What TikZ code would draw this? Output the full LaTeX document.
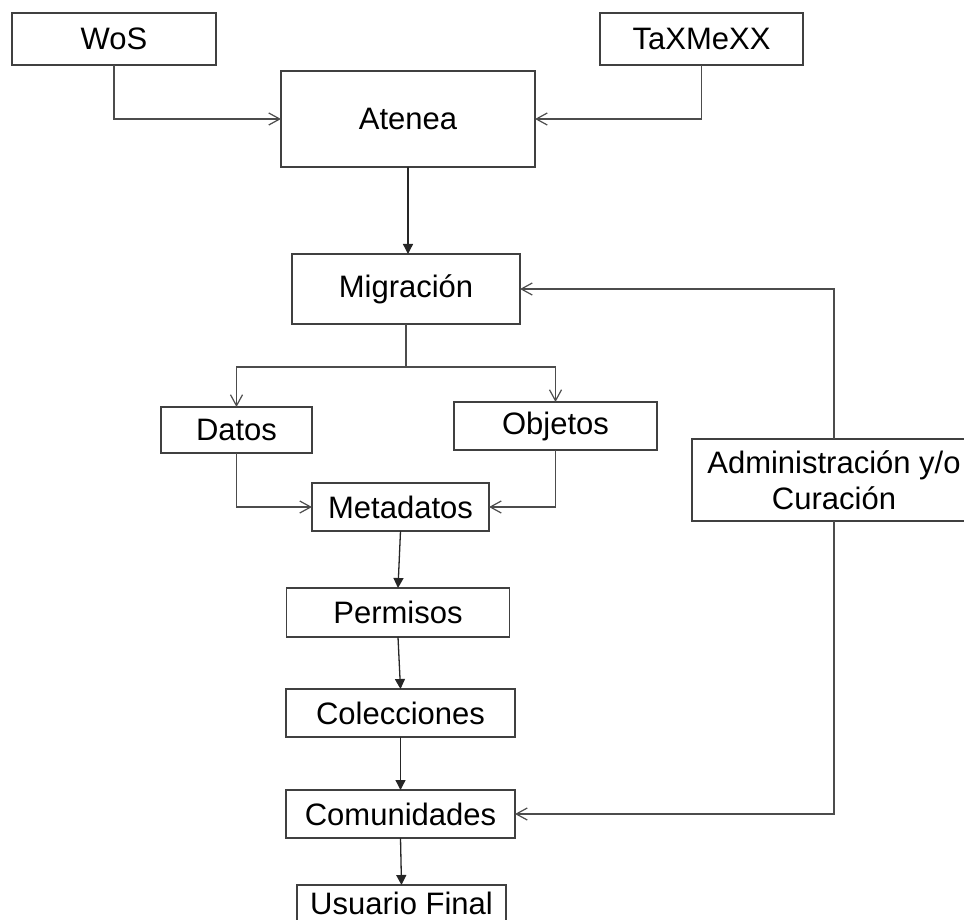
\documentclass[tikz,border=0pt]{standalone}
\usepackage{fontspec}
\setmainfont{Liberation Sans}
\usetikzlibrary{arrows.meta}
\begin{document}
\begin{tikzpicture}[x=1pt,y=-1pt,inner sep=0pt,outer sep=0pt,line width=1.3pt,
procblock/.style={draw=black!75,rectangle,align=center,font=\fontsize{31}{36}\selectfont,line width=1.3pt},
openarrow/.style={draw=black!70,-{Straight Barb[length=11pt,width=12pt,line width=1.2pt]}},
fullarrow/.style={draw=black!85,-{Triangle[length=10pt,width=10pt]}}]
\useasboundingbox (0,0) rectangle (964,920);
\clip (0,0) rectangle (964,920);
% boxes
\draw (114,39) node[procblock,minimum width=204pt,minimum height=52pt] (wos) {WoS};
\draw (701.5,39) node[procblock,minimum width=203pt,minimum height=52pt] (taxmexx) {TaXMeXX};
\draw (408,119) node[procblock,minimum width=254pt,minimum height=96pt] (atenea) {Atenea};
\draw (406,289) node[procblock,minimum width=228pt,minimum height=70pt] (migr) {Migración};
\draw (236.5,430) node[procblock,minimum width=151pt,minimum height=46pt] (datos) {Datos};
\draw (555.5,426) node[procblock,minimum width=203pt,minimum height=48pt] (objetos) {Objetos};
\draw (400.5,507) node[procblock,minimum width=177pt,minimum height=48pt] (meta) {Metadatos};
\draw (398,612.5) node[procblock,minimum width=223pt,minimum height=49pt] (perm) {Permisos};
\draw (400.5,713) node[procblock,minimum width=229pt,minimum height=48pt] (colec) {Colecciones};
\draw (400.5,814) node[procblock,minimum width=229pt,minimum height=48pt] (comun) {Comunidades};
\draw (401.5,903) node[procblock,minimum width=209pt,minimum height=36pt] (usuario) {Usuario Final};
\draw (834,480) node[procblock,minimum width=284pt,minimum height=82pt] (admin) {Administración y/o\\Curación};
% connectors
\draw[openarrow] (wos.south) |- (atenea.west);
\draw[openarrow] (taxmexx.south) |- (atenea.east);
\draw[fullarrow] (atenea.south) -- (atenea.south |- migr.north);
\draw[openarrow] (migr.south) -- ++(0,43) -| (datos.north);
\draw[openarrow] (migr.south) ++(0,43) -| (objetos.north);
\draw[openarrow] (datos.south) |- (meta.west);
\draw[openarrow] (objetos.south) |- (meta.east);
\draw[fullarrow] (meta.south) -- (perm.north);
\draw[fullarrow] (perm.south) -- (colec.north);
\draw[fullarrow] (colec.south) -- (comun.north);
\draw[fullarrow] (comun.south) -- (usuario.north);
\draw[openarrow] (admin.north) |- (migr.east);
\draw[openarrow] (admin.south) |- (comun.east);
\end{tikzpicture}
\end{document}
